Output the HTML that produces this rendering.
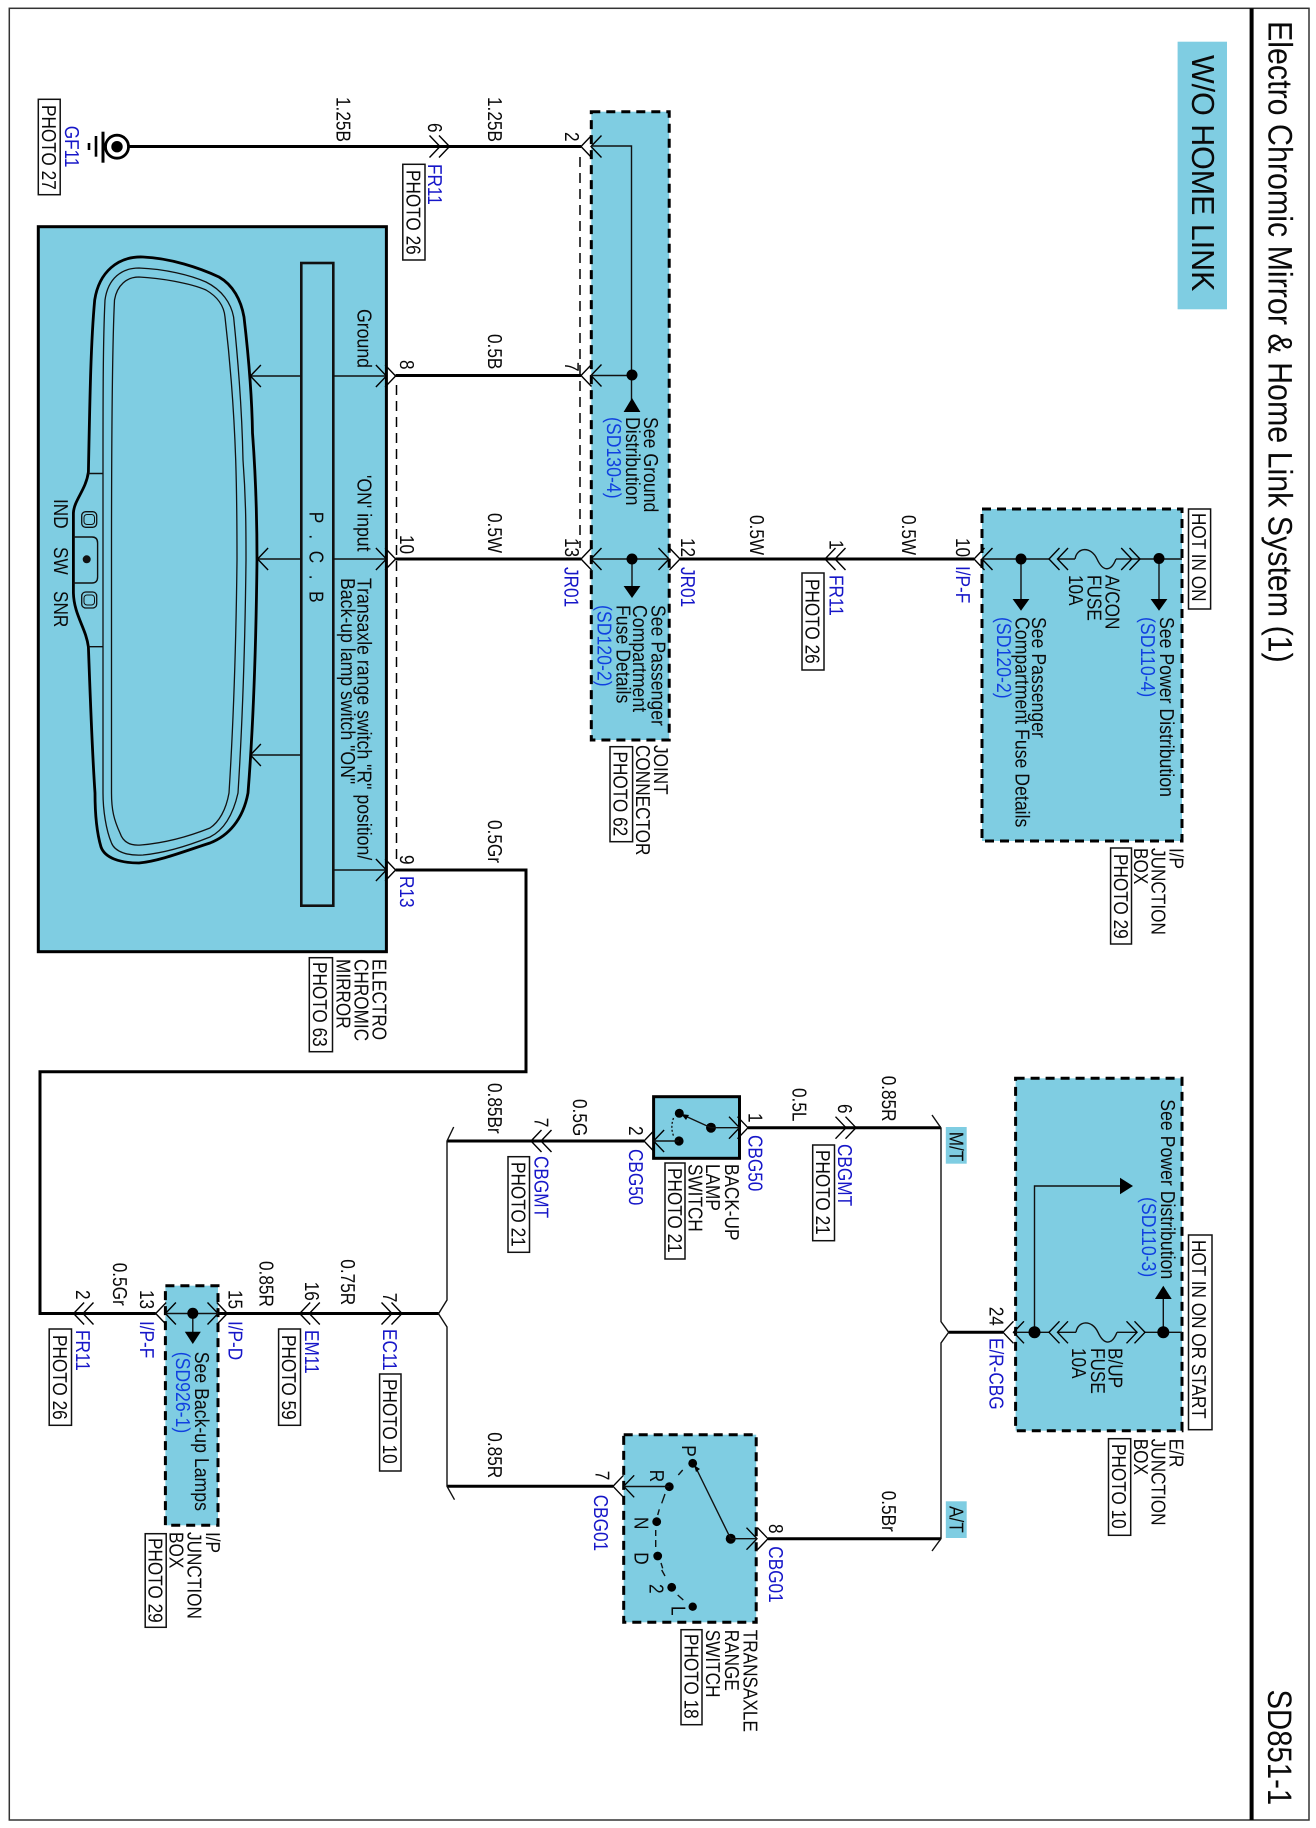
<!DOCTYPE html>
<html><head><meta charset="utf-8"><title>SD851-1</title>
<style>
html,body{margin:0;padding:0;background:#fff}
svg{display:block}
text{font-family:"Liberation Sans",Arial,sans-serif;font-size:17.2px;fill:#0a0a0a;text-rendering:geometricPrecision}
.m{font-size:17.7px}
.b{fill:#1616c8}
.s{fill:#1040e0;font-size:17.7px}
.w{fill:none;stroke:#000;stroke-width:3}
.t{fill:none;stroke:#111;stroke-width:1.4}
.ch{fill:none;stroke:#000;stroke-width:1.4}
.d{fill:#7fcde2;stroke:#000;stroke-width:3;stroke-dasharray:9 6}
.f{fill:#7fcde2;stroke:#000;stroke-width:3}
.p{fill:#fff;stroke:#111;stroke-width:1.5}
.dash{fill:none;stroke:#000;stroke-width:1.5;stroke-dasharray:10 6}
</style></head><body>
<svg width="1316" height="1828" viewBox="0 0 1316 1828" xmlns="http://www.w3.org/2000/svg">
<defs>
<path id="r" class="ch" d="M-10.5 -11L0 0L-10.5 11"/>
<path id="l" class="ch" d="M10.5 -11L0 0L10.5 11"/>
<path id="fu" class="t" d="M0 0C2 -12 16 -13 22 0S36 13 41 0"/>
</defs>
<rect x="0" y="0" width="1316" height="1828" fill="#fff"/>
<rect x="9.3" y="8.3" width="1299.7" height="1811.7" fill="none" stroke="#333" stroke-width="1.5"/>
<rect x="1249.6" y="8.3" width="4" height="1811.7" fill="#000"/>

<!-- W/O label -->
<rect x="1177.6" y="41.7" width="49.4" height="267.6" fill="#7fcde2"/>

<!-- boxes -->
<rect class="f" x="38.3" y="226.7" width="348.1" height="725"/>
<rect class="d" x="591.3" y="111.7" width="77.9" height="628.3"/>
<rect class="d" x="982" y="509" width="200" height="332"/>
<rect class="d" x="1015.6" y="1078.3" width="166.4" height="352.4"/>
<rect class="d" x="165.4" y="1285.7" width="52.6" height="239.6"/>
<rect class="d" x="623.7" y="1434.7" width="132.5" height="187.6"/>
<rect class="f" x="653.6" y="1096.7" width="85.9" height="61.6"/>
<rect x="945.8" y="1127" width="20.9" height="36.7" fill="#7fcde2"/>
<rect x="945.8" y="1501.3" width="20.9" height="36.7" fill="#7fcde2"/>

<!-- mirror -->
<rect x="301.3" y="263" width="32" height="642.7" fill="#7fcde2" stroke="#111" stroke-width="2.6"/>
<path fill="none" stroke="#000" stroke-width="2.8" d="M88.4 472C90 390 91 340 94.7 300C99 272 118 256 143 257C170 258 200 268 219 277C233 285 241 300 244 317C249 360 252 400 252.5 433C256 480 257 520 257 560C256 650 253 730 248 793C243 820 228 836 210 843C185 851 160 861 139 863C120 863 105 858 101 847C96 830 95 810 95 793C92 750 90 690 88.4 647C86 628 74 615 73.4 593V513C74 500 86 490 88.4 472Z"/>
<path fill="none" stroke="#111" stroke-width="1.3" d="M103 470C103 400 103 340 105 300C108 278 122 268 139 268C165 269 190 275 206 282C222 290 231 303 233.6 317C238 360 242 410 243 460C246 500 246 530 246 560C245 650 242 730 238 793C233 815 224 830 210 837C190 845 165 853 143 855C128 856 115 852 111.5 843C106 830 103 810 103 793C103 700 103 560 103 470Z"/>
<path fill="none" stroke="#111" stroke-width="1.3" d="M111.5 560C111.5 450 112 350 114.5 300C117 285 127 277 139 277C160 278 190 283 206 290C218 297 224 306 225 317C230 360 234 410 235.7 460C237 500 237 530 237 560C236 650 233 730 229 793C226 810 219 822 210 828C190 836 165 843 141 845C130 846 123 842 120 833C114 820 111.5 810 111.5 793Z"/>
<path class="t" d="M88.4 473.5H103M88.4 646.7H103"/>
<rect x="81.7" y="511.7" width="15" height="15.6" rx="4" fill="none" stroke="#111" stroke-width="1.3"/>
<rect x="84" y="514.5" width="10.5" height="10" rx="3" fill="none" stroke="#111" stroke-width="1"/>
<rect x="81.7" y="592" width="15" height="16" rx="4" fill="none" stroke="#111" stroke-width="1.3"/>
<rect x="84" y="595" width="10.5" height="10" rx="3" fill="none" stroke="#111" stroke-width="1"/>
<path fill="none" stroke="#111" stroke-width="1.4" d="M73.5 537H92Q97.6 537 97.6 543V577Q97.6 583 92 583H73.5"/>
<circle cx="86.7" cy="559.3" r="4" fill="#111"/>
<path class="t" d="M250.4 376H301.3M257.6 559H301.3M250.4 755H301.3M333.3 376H386.4M333.3 559H386.4M333.3 870H386.4"/>
<use href="#l" x="250.4" y="376"/><use href="#l" x="257.6" y="559"/><use href="#l" x="250.4" y="755"/>
<use href="#r" x="386.4" y="376"/><use href="#r" x="386.4" y="559"/><use href="#r" x="386.4" y="870"/>
<use href="#r" x="395.6" y="376"/><use href="#r" x="395.6" y="559"/><use href="#r" x="395.6" y="870"/>

<!-- ground -->
<circle cx="117" cy="146.7" r="11.5" fill="#fff" stroke="#000" stroke-width="2.8"/>
<circle cx="117" cy="146.7" r="5.7" fill="#000"/>
<path d="M103 131.7V162.7" stroke="#000" stroke-width="3"/>
<path d="M96 136V156.7" stroke="#000" stroke-width="2.6"/>
<path d="M89 143V150" stroke="#000" stroke-width="2.6"/>

<!-- thick wires -->
<path class="w" d="M128 146.5H449.5M449.5 146.5H581"/>
<path class="w" d="M395.6 375.5H581"/>
<path class="w" d="M395.6 559H581M680 559H835M835 559H974"/>
<path class="w" d="M395.6 870H526V1071.7H40V1313.5H83H155.7M218 1313.5H309.3M309.3 1313.5H438.5"/>
<path class="w" d="M447 1141H644" stroke-width="2.6"/>
<path class="w" d="M447 1486.3H613"/>
<path class="w" d="M748 1127.7H941"/>
<path class="w" d="M768 1538.7H941"/>
<path class="w" d="M948.7 1332.3H1003"/>

<!-- buses -->
<path class="t" d="M453.7 1127L447 1141V1300L438.5 1313.7L447 1327V1486.3L454.5 1499.7"/>
<path class="t" d="M932 1115L941 1128V1321.7L948.7 1332.3L941 1343V1538.7L932 1551"/>

<!-- dashed -->
<path class="dash" d="M580 157V548M396.5 385V860"/>

<!-- connectors -->
<use href="#r" x="440" y="146.5"/><use href="#r" x="449.5" y="146.5"/>
<use href="#l" x="581" y="146.5"/><use href="#l" x="591" y="146.5"/>
<use href="#l" x="581" y="375.5"/><use href="#l" x="591" y="375.5"/>
<use href="#l" x="581" y="559"/><use href="#l" x="591" y="559"/>
<use href="#r" x="669" y="559"/><use href="#r" x="680" y="559"/>
<use href="#l" x="825" y="559"/><use href="#l" x="835" y="559"/>
<use href="#l" x="974" y="559"/><use href="#l" x="982" y="559"/>
<use href="#l" x="73.6" y="1313.5"/><use href="#l" x="83" y="1313.5"/>
<use href="#l" x="155.7" y="1313.5"/><use href="#l" x="165.4" y="1313.5"/>
<use href="#r" x="218" y="1313.5"/><use href="#r" x="227.3" y="1313.5"/>
<use href="#l" x="299.7" y="1313.5"/><use href="#l" x="309.3" y="1313.5"/>
<use href="#r" x="392" y="1313.5"/><use href="#r" x="402" y="1313.5"/>
<use href="#l" x="531" y="1141"/><use href="#l" x="541" y="1141"/>
<use href="#l" x="644" y="1141"/><use href="#l" x="653.6" y="1141"/>
<use href="#r" x="739.5" y="1127.7"/><use href="#r" x="748" y="1127.7"/>
<use href="#r" x="846" y="1127.7"/><use href="#r" x="856" y="1127.7"/>
<use href="#l" x="613" y="1486.3"/><use href="#l" x="623.7" y="1486.3"/>
<use href="#r" x="757" y="1538.7"/><use href="#r" x="768" y="1538.7"/>
<use href="#l" x="1003" y="1332.3"/><use href="#l" x="1013.5" y="1332.3"/>

<!-- joint connector inner -->
<path class="t" d="M591 146H631.5V375M591 375.5H632M591 559H669M631.5 375V400M632 559V590"/>
<ellipse cx="632" cy="375" rx="5.5" ry="5.5" fill="#000"/>
<path d="M632 398L640.4 412H623.6Z" fill="#000"/>
<ellipse cx="632" cy="559" rx="5.5" ry="5.5" fill="#000"/>
<path d="M632 598L640.4 586H623.6Z" fill="#000"/>

<!-- I/P box inner -->
<path class="t" d="M982 559H1049M1131.7 559H1182M1021 559V600M1159 559V600M1057.5 559H1075"/>
<path class="t" d="M1116 559H1131.7"/>
<circle cx="1021" cy="559" r="5.5" fill="#000"/><circle cx="1159" cy="558.5" r="5.5" fill="#000"/>
<path d="M1021 610.7L1029.4 599H1012.6Z" fill="#000"/><path d="M1159 610.7L1167.4 599H1150.6Z" fill="#000"/>
<use href="#l" x="1049" y="559"/><use href="#l" x="1057.5" y="559"/>
<use href="#fu" x="1075" y="559"/>
<use href="#r" x="1131.7" y="559"/><use href="#r" x="1140" y="559"/>

<!-- E/R box inner -->
<path class="t" d="M1015.6 1332.3H1049M1057.5 1332.3H1076M1117 1332.3H1137M1145 1332.3H1182M1034.5 1332.3V1186H1122M1163.3 1332.3V1297"/>
<circle cx="1034.5" cy="1332.3" r="6" fill="#000"/><circle cx="1163.3" cy="1332.3" r="6" fill="#000"/>
<path d="M1133 1186L1120 1177.7V1194.3Z" fill="#000"/>
<path d="M1163.3 1285.7L1171.7 1299H1154.9Z" fill="#000"/>
<use href="#l" x="1049" y="1332.3"/><use href="#l" x="1057.5" y="1332.3"/>
<use href="#fu" x="1076" y="1332.3"/>
<use href="#r" x="1137" y="1332.3"/><use href="#r" x="1145" y="1332.3"/>

<!-- I/P small box inner -->
<path class="t" d="M165.4 1313.5H218M192.8 1313.5V1335"/>
<circle cx="192.8" cy="1313.3" r="5.5" fill="#000"/>
<path d="M192.8 1344L200.8 1331.7H184.8Z" fill="#000"/>

<!-- backup switch inner -->
<circle cx="679.3" cy="1113.3" r="4.5" fill="#000"/><circle cx="711" cy="1127.7" r="5" fill="#000"/><circle cx="679" cy="1141" r="4.6" fill="#000"/>
<path class="t" d="M711 1127.7L683 1115M711 1127.7H739.5M679 1141H653.6"/>
<path d="M681 1114L689 1115L686 1120Z" fill="#000"/>
<path d="M673.5 1118Q670 1128 674 1137" fill="none" stroke="#111" stroke-width="1.3" stroke-dasharray="2 2"/>

<!-- transaxle inner -->
<circle cx="692.7" cy="1463.3" r="4.4" fill="#000"/><circle cx="669.3" cy="1486.7" r="4.4" fill="#000"/><circle cx="656.7" cy="1521.7" r="4.4" fill="#000"/><circle cx="657.7" cy="1556" r="4.4" fill="#000"/><circle cx="671.7" cy="1587.3" r="4.4" fill="#000"/><circle cx="692.7" cy="1606.7" r="4.2" fill="#000"/><circle cx="730.7" cy="1538.7" r="5" fill="#000"/>
<path class="t" d="M730.7 1538.7L696 1468M730.7 1538.7H757M669.3 1486.5H623.7"/>
<path d="M694 1465L700 1469L696 1472Z" fill="#000"/>
<path class="t" d="M682.7 1470L678.3 1475M665 1494L661.7 1503.3M659.3 1509.3L657.7 1515M655.7 1530V1536M655.7 1540V1547M661 1563L662.7 1568.3M661.7 1570L665 1576M677.7 1595L683.3 1600"/>

<!-- PHOTO boxes -->
<rect class="p" x="38.3" y="99.3" width="21.9" height="95.4"/>
<rect class="p" x="402.8" y="164.3" width="22.2" height="95.7"/>
<rect class="p" x="802" y="573" width="22" height="97"/>
<rect class="p" x="610" y="746.7" width="22.6" height="95"/>
<rect class="p" x="1110.6" y="848" width="20.9" height="96"/>
<rect class="p" x="1188.5" y="509" width="22.1" height="100"/>
<rect class="p" x="309.3" y="957.7" width="23.2" height="94"/>
<rect class="p" x="508" y="1156.7" width="21.5" height="95.6"/>
<rect class="p" x="812.7" y="1145" width="21.8" height="95.7"/>
<rect class="p" x="665" y="1163" width="20" height="96"/>
<rect class="p" x="1188.5" y="1235" width="23.5" height="194.7"/>
<rect class="p" x="1108.5" y="1438.7" width="22.2" height="96.6"/>
<rect class="p" x="49.2" y="1329" width="22.3" height="96.3"/>
<rect class="p" x="278.6" y="1329" width="21.9" height="96.3"/>
<rect class="p" x="379.6" y="1374" width="21.4" height="97"/>
<rect class="p" x="145.2" y="1533.7" width="21" height="93.6"/>
<rect class="p" x="681" y="1629.7" width="21" height="95"/>

<!-- Title -->
<text style="font-size:30.4px" transform="matrix(0 1 -1.12 0 1268.5 21)">Electro Chromic Mirror &amp; Home Link System (1)</text>
<text style="font-size:29.3px" transform="matrix(0 1 -1.16 0 1268 1689.5)">SD851-1</text>
<text style="font-size:30.4px" transform="matrix(0 1 -1.05 0 1192 55)">W/O HOME LINK</text>

<!-- PHOTO text -->
<text transform="matrix(0 1 -1.17 0 42 105)">PHOTO 27</text>
<text transform="matrix(0 1 -1.17 0 406.5 170)">PHOTO 26</text>
<text transform="matrix(0 1 -1.17 0 805.5 579)">PHOTO 26</text>
<text transform="matrix(0 1 -1.17 0 613.5 751.5)">PHOTO 62</text>
<text transform="matrix(0 1 -1.17 0 1114 854)">PHOTO 29</text>
<text transform="matrix(0 1 -1.17 0 1192 513)">HOT IN ON</text>
<text transform="matrix(0 1 -1.17 0 313 962)">PHOTO 63</text>
<text transform="matrix(0 1 -1.17 0 511.5 1162)">PHOTO 21</text>
<text transform="matrix(0 1 -1.17 0 816 1150)">PHOTO 21</text>
<text transform="matrix(0 1 -1.17 0 668 1168)">PHOTO 21</text>
<text transform="matrix(0 1 -1.17 0 1192 1240)">HOT IN ON OR START</text>
<text transform="matrix(0 1 -1.17 0 1112 1444)">PHOTO 10</text>
<text transform="matrix(0 1 -1.17 0 53 1335)">PHOTO 26</text>
<text transform="matrix(0 1 -1.17 0 282 1335)">PHOTO 59</text>
<text transform="matrix(0 1 -1.17 0 383 1379)">PHOTO 10</text>
<text transform="matrix(0 1 -1.17 0 148.5 1538)">PHOTO 29</text>
<text transform="matrix(0 1 -1.17 0 684.5 1634)">PHOTO 18</text>

<!-- wire labels -->
<text transform="matrix(0 1 -1.17 0 336.7 97)">1.25B</text>
<text transform="matrix(0 1 -1.17 0 488 97)">1.25B</text>
<text transform="matrix(0 1 -1.17 0 488 334)">0.5B</text>
<text transform="matrix(0 1 -1.17 0 488 513)">0.5W</text>
<text transform="matrix(0 1 -1.17 0 750 515)">0.5W</text>
<text transform="matrix(0 1 -1.17 0 902 515)">0.5W</text>
<text transform="matrix(0 1 -1.17 0 488 820)">0.5Gr</text>
<text transform="matrix(0 1 -1.17 0 488 1083)">0.85Br</text>
<text transform="matrix(0 1 -1.17 0 573 1099)">0.5G</text>
<text transform="matrix(0 1 -1.17 0 792.6 1088)">0.5L</text>
<text transform="matrix(0 1 -1.17 0 881.8 1075.7)">0.85R</text>
<text transform="matrix(0 1 -1.17 0 881.8 1490.7)">0.5Br</text>
<text transform="matrix(0 1 -1.17 0 488 1432.3)">0.85R</text>
<text transform="matrix(0 1 -1.17 0 112.8 1262.7)">0.5Gr</text>
<text transform="matrix(0 1 -1.17 0 259.7 1261)">0.85R</text>
<text transform="matrix(0 1 -1.17 0 341 1259.3)">0.75R</text>

<!-- pin numbers -->
<text transform="matrix(0 1 -1.17 0 428 123)">6</text>
<text transform="matrix(0 1 -1.17 0 565 132)">2</text>
<text transform="matrix(0 1 -1.17 0 565 362)">7</text>
<text transform="matrix(0 1 -1.17 0 565 538)">13</text>
<text transform="matrix(0 1 -1.17 0 400 360)">8</text>
<text transform="matrix(0 1 -1.17 0 400 535)">10</text>
<text transform="matrix(0 1 -1.17 0 400 855)">9</text>
<text transform="matrix(0 1 -1.17 0 681 538)">12</text>
<text transform="matrix(0 1 -1.17 0 829.5 540)">1</text>
<text transform="matrix(0 1 -1.17 0 956 538)">10</text>
<text transform="matrix(0 1 -1.17 0 75.8 1290)">2</text>
<text transform="matrix(0 1 -1.17 0 140 1290)">13</text>
<text transform="matrix(0 1 -1.17 0 228.5 1290)">15</text>
<text transform="matrix(0 1 -1.17 0 305 1281.7)">16</text>
<text transform="matrix(0 1 -1.17 0 383 1292.7)">7</text>
<text transform="matrix(0 1 -1.17 0 534.5 1117.7)">7</text>
<text transform="matrix(0 1 -1.17 0 629 1126)">2</text>
<text transform="matrix(0 1 -1.17 0 748.7 1113)">1</text>
<text transform="matrix(0 1 -1.17 0 838 1104)">6</text>
<text transform="matrix(0 1 -1.17 0 989.7 1306.7)">24</text>
<text transform="matrix(0 1 -1.17 0 595.5 1470.7)">7</text>
<text transform="matrix(0 1 -1.17 0 768.8 1524)">8</text>

<!-- connector names -->
<text class="b" transform="matrix(0 1 -1.17 0 65 125.7)">GF11</text>
<text class="b" transform="matrix(0 1 -1.17 0 428 164)">FR11</text>
<text class="b" transform="matrix(0 1 -1.17 0 564.5 567)">JR01</text>
<text class="b" transform="matrix(0 1 -1.17 0 681 567)">JR01</text>
<text class="b" transform="matrix(0 1 -1.17 0 829.5 575)">FR11</text>
<text class="b" transform="matrix(0 1 -1.17 0 956 566)">I/P-F</text>
<text class="b" transform="matrix(0 1 -1.17 0 400 876)">R13</text>
<text class="b" transform="matrix(0 1 -1.17 0 75.8 1330)">FR11</text>
<text class="b" transform="matrix(0 1 -1.17 0 140 1321)">I/P-F</text>
<text class="b" transform="matrix(0 1 -1.17 0 228.5 1321)">I/P-D</text>
<text class="b" transform="matrix(0 1 -1.17 0 305 1330)">EM11</text>
<text class="b" transform="matrix(0 1 -1.17 0 383 1329)">EC11</text>
<text class="b" transform="matrix(0 1 -1.17 0 534.5 1156)">CBGMT</text>
<text class="b" transform="matrix(0 1 -1.17 0 629 1149)">CBG50</text>
<text class="b" transform="matrix(0 1 -1.17 0 748.7 1135)">CBG50</text>
<text class="b" transform="matrix(0 1 -1.17 0 838 1144)">CBGMT</text>
<text class="b" transform="matrix(0 1 -1.17 0 989.7 1338)">E/R-CBG</text>
<text class="b" transform="matrix(0 1 -1.17 0 594 1494.7)">CBG01</text>
<text class="b" transform="matrix(0 1 -1.17 0 768.8 1546.3)">CBG01</text>

<!-- mirror text -->
<text class="m" transform="matrix(0 1 -1.14 0 357.7 309)">Ground</text>
<text class="m" transform="matrix(0 1 -1.14 0 357.7 475)">'ON' input</text>
<text class="m" transform="matrix(0 1 -1.14 0 357.7 578)">Transaxle range switch "R" position/</text>
<text class="m" transform="matrix(0 1 -1.14 0 341 578)">Back-up lamp switch "ON"</text>
<text style="letter-spacing:3.4px" transform="matrix(0 1 -1.17 0 309.4 511.7)">P . C . B</text>
<text transform="matrix(0 1 -1.17 0 53.9 499)">IND</text>
<text transform="matrix(0 1 -1.17 0 53.9 547)">SW</text>
<text transform="matrix(0 1 -1.17 0 53.9 591)">SNR</text>
<text transform="matrix(0 1 -1.17 0 372.5 959)">ELECTRO</text>
<text transform="matrix(0 1 -1.17 0 354.4 959)">CHROMIC</text>
<text transform="matrix(0 1 -1.17 0 336.7 959)">MIRROR</text>

<!-- joint text -->
<text class="m" transform="matrix(0 1 -1.14 0 644 417)">See Ground</text>
<text class="m" transform="matrix(0 1 -1.14 0 626 417)">Distribution</text>
<text class="s" transform="matrix(0 1 -1.14 0 607 417)">(SD130-4)</text>
<text class="m" transform="matrix(0 1 -1.14 0 651.5 605)">See Passenger</text>
<text class="m" transform="matrix(0 1 -1.14 0 633 605)">Compartment</text>
<text class="m" transform="matrix(0 1 -1.14 0 616.6 605)">Fuse Details</text>
<text class="s" transform="matrix(0 1 -1.14 0 597.6 605)">(SD120-2)</text>
<text transform="matrix(0 1 -1.17 0 654 745)">JOINT</text>
<text transform="matrix(0 1 -1.17 0 636 745)">CONNECTOR</text>

<!-- I/P box text -->
<text class="m" transform="matrix(0 1 -1.14 0 1160 617)">See Power Distribution</text>
<text class="s" transform="matrix(0 1 -1.14 0 1141 617)">(SD110-4)</text>
<text transform="matrix(0 1 -1.17 0 1105.6 575)">A/CON</text>
<text transform="matrix(0 1 -1.17 0 1087.6 575)">FUSE</text>
<text transform="matrix(0 1 -1.17 0 1069 575)">10A</text>
<text class="m" transform="matrix(0 1 -1.14 0 1032 617)">See Passenger</text>
<text class="m" transform="matrix(0 1 -1.14 0 1015.6 617)">Compartment Fuse Details</text>
<text class="s" transform="matrix(0 1 -1.14 0 997 617)">(SD120-2)</text>
<text transform="matrix(0 1 -1.17 0 1169.6 848)">I/P</text>
<text transform="matrix(0 1 -1.17 0 1151.6 848)">JUNCTION</text>
<text transform="matrix(0 1 -1.17 0 1134 848)">BOX</text>

<!-- E/R text -->
<text class="m" transform="matrix(0 1 -1.14 0 1160.8 1099.3)">See Power Distribution</text>
<text class="s" transform="matrix(0 1 -1.14 0 1142 1197)">(SD110-3)</text>
<text transform="matrix(0 1 -1.17 0 1108.5 1348)">B/UP</text>
<text transform="matrix(0 1 -1.17 0 1091 1348)">FUSE</text>
<text transform="matrix(0 1 -1.17 0 1072 1348)">10A</text>
<text transform="matrix(0 1 -1.17 0 1169.6 1438.7)">E/R</text>
<text transform="matrix(0 1 -1.17 0 1151.6 1438.7)">JUNCTION</text>
<text transform="matrix(0 1 -1.17 0 1134 1438.7)">BOX</text>

<!-- M/T A/T -->
<text transform="matrix(0 1 -1.17 0 949.5 1131.7)">M/T</text>
<text transform="matrix(0 1 -1.17 0 949.5 1506)">A/T</text>

<!-- backup text -->
<text transform="matrix(0 1 -1.17 0 724.9 1164)">BACK-UP</text>
<text transform="matrix(0 1 -1.17 0 706 1164)">LAMP</text>
<text transform="matrix(0 1 -1.17 0 688.5 1164)">SWITCH</text>

<!-- transaxle text -->
<text transform="matrix(0 1 -1.17 0 681.8 1445.3)">P</text>
<text transform="matrix(0 1 -1.17 0 650 1469.7)">R</text>
<text transform="matrix(0 1 -1.17 0 634.7 1517)">N</text>
<text transform="matrix(0 1 -1.17 0 634.7 1552.3)">D</text>
<text transform="matrix(0 1 -1.17 0 649.4 1584)">2</text>
<text transform="matrix(0 1 -1.17 0 671.7 1606)">L</text>
<text transform="matrix(0 1 -1.17 0 743.7 1629.7)">TRANSAXLE</text>
<text transform="matrix(0 1 -1.17 0 724.9 1629.7)">RANGE</text>
<text transform="matrix(0 1 -1.17 0 706 1629.7)">SWITCH</text>

<!-- small I/P text -->
<text class="m" transform="matrix(0 1 -1.14 0 195 1351.7)">See Back-up Lamps</text>
<text class="s" transform="matrix(0 1 -1.14 0 176 1351.7)">(SD926-1)</text>
<text transform="matrix(0 1 -1.17 0 206 1532)">I/P</text>
<text transform="matrix(0 1 -1.17 0 187.3 1532)">JUNCTION</text>
<text transform="matrix(0 1 -1.17 0 169.6 1532)">BOX</text>
</svg>
</body></html>
